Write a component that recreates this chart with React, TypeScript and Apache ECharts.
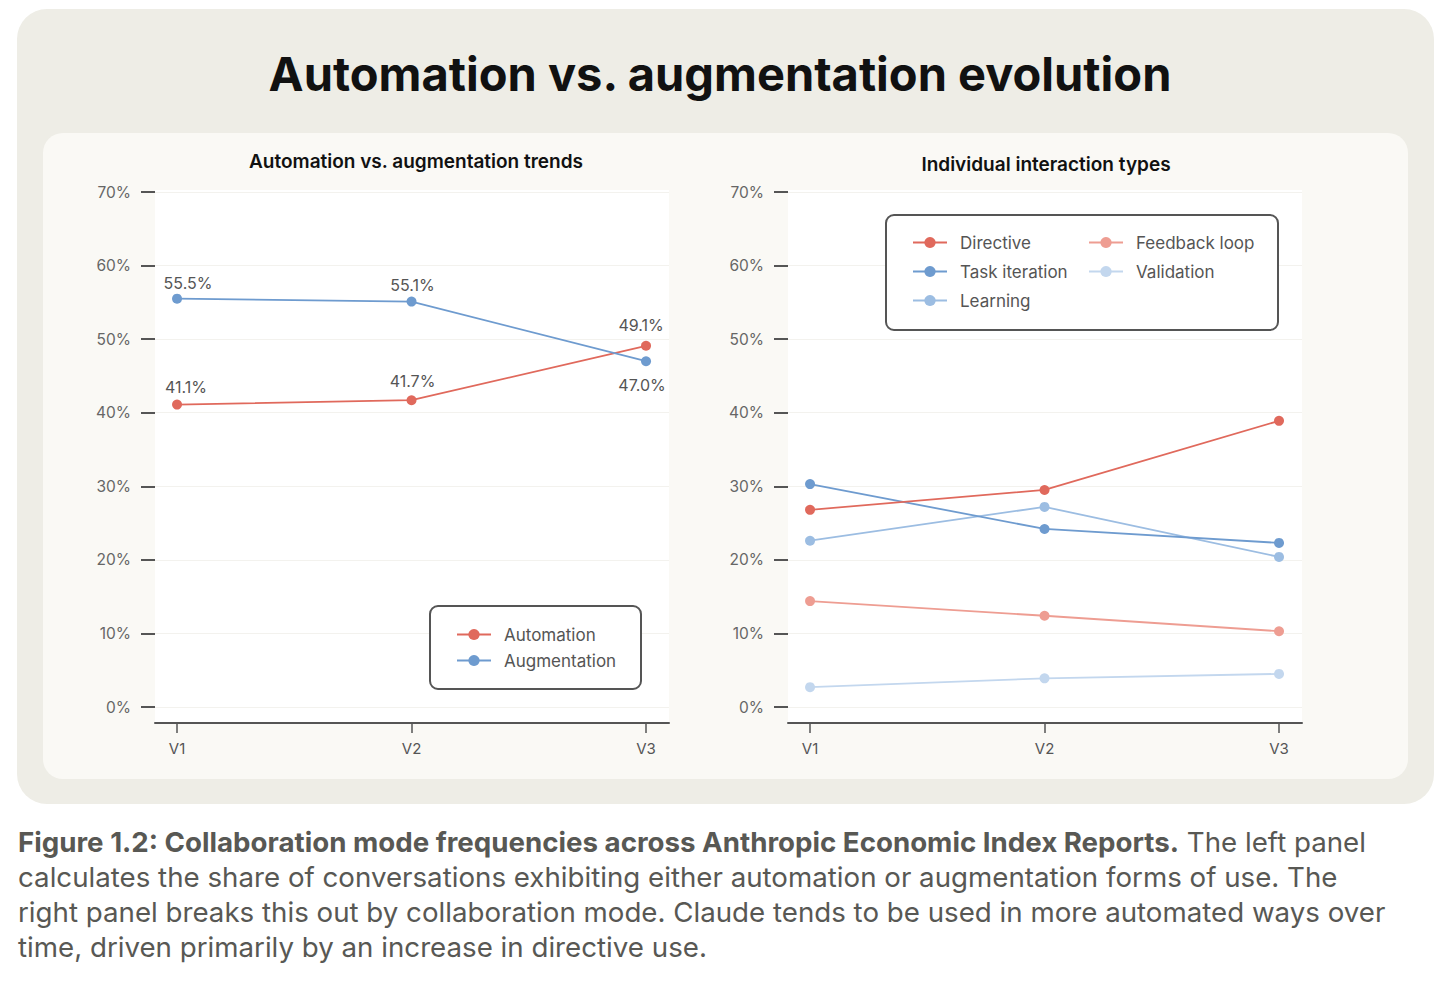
import React, { useEffect, useRef } from "react";
import * as echarts from "echarts";

const categories = ["V1", "V2", "V3"];

const automation = [41.1, 41.7, 49.1];
const augmentation = [55.5, 55.1, 47.0];

const directive = [26.8, 29.5, 38.9];
const taskIteration = [30.3, 24.2, 22.3];
const learning = [22.6, 27.2, 20.4];
const feedbackLoop = [14.4, 12.4, 10.3];
const validation = [2.7, 3.9, 4.5];

const mainTitle = "Automation vs. augmentation evolution";
const leftTitle = "Automation vs. augmentation trends";
const rightTitle = "Individual interaction types";
const captionBold = "Figure 1.2: Collaboration mode frequencies across Anthropic Economic Index Reports.";
const captionLines = [
  " The left panel",
  "calculates the share of conversations exhibiting either automation or augmentation forms of use. The",
  "right panel breaks this out by collaboration mode. Claude tends to be used in more automated ways over",
  "time, driven primarily by an increase in directive use.",
];

const FONT = "Inter, 'Noto Sans', sans-serif";
const RED = "#E0695C";
const BLUE = "#6E9BCF";
const LIGHTBLUE = "#9CBDE2";
const SALMON = "#EE9D92";
const PALEBLUE = "#C3D7EE";
const AXIS = "#555555";

function App() {
  const ref = useRef<HTMLDivElement>(null);

  useEffect(() => {
    if (!ref.current) return;
    const chart = echarts.init(ref.current, undefined, { renderer: "svg" });

    const xAxisBase = (gridIndex: number) => ({
      type: "value" as const,
      gridIndex,
      min: -0.094,
      max: 2.098,
      position: "bottom" as const,
      offset: 16,
      axisLine: { show: true, onZero: false, lineStyle: { color: AXIS, width: 2 } },
      axisTick: { show: true, customValues: [0, 1, 2], length: 10, lineStyle: { color: AXIS, width: 1.5 } },
      axisLabel: {
        customValues: [0, 1, 2],
        formatter: (v: number) => categories[Math.round(v)] ?? "",
        color: AXIS,
        fontSize: 15,
        fontFamily: FONT,
        margin: 18,
      },
      splitLine: { show: false },
    });

    const yAxisBase = (gridIndex: number) => ({
      type: "value" as const,
      gridIndex,
      min: 0,
      max: 70,
      interval: 10,
      position: "left" as const,
      axisLine: { show: false, onZero: false },
      axisTick: { show: true, inside: false, length: 14, lineStyle: { color: AXIS, width: 2 } },
      axisLabel: {
        formatter: (v: number) => `${v}%`,
        color: "#666",
        fontSize: 15.5,
        fontFamily: FONT,
        margin: 24,
      },
      splitLine: { show: true, lineStyle: { color: "#F3F2EE", width: 1 } },
    });

    const pts = (vals: number[]) => categories.map((_, i) => [i, vals[i]]);

    const lineSeries = (name: string, vals: number[], color: string, idx: number, z = 3) => ({
      name,
      type: "line" as const,
      xAxisIndex: idx,
      yAxisIndex: idx,
      data: pts(vals),
      symbol: "circle",
      symbolSize: 10,
      z,
      lineStyle: { color, width: 1.8 },
      itemStyle: { color },
    });

    const labelStyle = { show: true, color: AXIS, fontSize: 16, fontFamily: FONT };
    const labelledData = (vals: number[], cfg: { pos: string; dx: number; dist: number }[]) =>
      categories.map((_, i) => ({
        value: [i, vals[i]],
        label: {
          ...labelStyle,
          position: cfg[i].pos,
          distance: cfg[i].dist,
          offset: [cfg[i].dx, 0],
          formatter: `${vals[i].toFixed(1)}%`,
        },
      }));

    const legendText = { color: AXIS, fontSize: 17, fontFamily: FONT, padding: [0, 0, 0, 8] };

    const option = {
      animation: false,
      backgroundColor: "transparent",
      graphic: [
        { type: "rect", z: -20, shape: { x: 17, y: 9, width: 1417, height: 795, r: 30 }, style: { fill: "#EEEDE6" }, silent: true },
        { type: "rect", z: -19, shape: { x: 43, y: 133, width: 1365, height: 646, r: 20 }, style: { fill: "#FAF9F5" }, silent: true },
        { type: "rect", z: -18, shape: { x: 155, y: 190, width: 514, height: 533 }, style: { fill: "#FFFFFF" }, silent: true },
        { type: "rect", z: -18, shape: { x: 788, y: 190, width: 514, height: 533 }, style: { fill: "#FFFFFF" }, silent: true },
        { type: "rect", z: 5, shape: { x: 430, y: 606, width: 211, height: 83, r: 8 }, style: { fill: "#FFFFFF", stroke: AXIS, lineWidth: 2 }, silent: true },
        { type: "rect", z: 5, shape: { x: 886, y: 215, width: 392, height: 115, r: 8 }, style: { fill: "#FFFFFF", stroke: AXIS, lineWidth: 2 }, silent: true },
        {
          type: "text", z: 10,
          style: { x: 720, y: 73, text: mainTitle, align: "center", verticalAlign: "middle", fill: "#111", font: `bold 47px ${FONT}` },
        },
        {
          type: "text", z: 10,
          style: { x: 416, y: 161, text: leftTitle, align: "center", verticalAlign: "middle", fill: "#111", font: `600 19px ${FONT}` },
        },
        {
          type: "text", z: 10,
          style: { x: 1046, y: 164, text: rightTitle, align: "center", verticalAlign: "middle", fill: "#111", font: `600 19px ${FONT}` },
        },
        {
          type: "text", z: 10,
          style: {
            x: 18, y: 824,
            text:
              `{b|${captionBold}}{r|${captionLines[0]}}\n` +
              captionLines.slice(1).map((l) => `{r|${l}}`).join("\n"),
            rich: {
              b: { fontFamily: FONT, fontSize: 27.7, fontWeight: "bold", fill: "#585854", lineHeight: 35 },
              r: { fontFamily: FONT, fontSize: 27.7, fontWeight: "normal", fill: "#585854", lineHeight: 35 },
            },
          },
        },
      ],
      grid: [
        { left: 155, top: 192, width: 514, height: 515 },
        { left: 788, top: 192, width: 514, height: 515 },
      ],
      xAxis: [xAxisBase(0), xAxisBase(1)],
      yAxis: [yAxisBase(0), yAxisBase(1)],
      legend: [
        {
          data: ["Automation", "Augmentation"],
          orient: "vertical",
          left: 456, top: 626,
          padding: 0, itemGap: 9, itemWidth: 34, itemHeight: 14,
          selectedMode: false, z: 8,
          textStyle: legendText,
        },
        {
          data: ["Directive", "Task iteration", "Learning"],
          orient: "vertical",
          left: 912, top: 234,
          padding: 0, itemGap: 12, itemWidth: 34, itemHeight: 14,
          selectedMode: false, z: 8,
          textStyle: legendText,
        },
        {
          data: ["Feedback loop", "Validation"],
          orient: "vertical",
          left: 1088, top: 234,
          padding: 0, itemGap: 12, itemWidth: 34, itemHeight: 14,
          selectedMode: false, z: 8,
          textStyle: legendText,
        },
      ],
      series: [
        {
          ...lineSeries("Automation", automation, RED, 0),
          data: labelledData(automation, [
            { pos: "top", dx: 9, dist: 5 },
            { pos: "top", dx: 1, dist: 6 },
            { pos: "top", dx: -5, dist: 8 },
          ]),
        },
        {
          ...lineSeries("Augmentation", augmentation, BLUE, 0),
          data: labelledData(augmentation, [
            { pos: "top", dx: 11, dist: 3 },
            { pos: "top", dx: 1, dist: 4 },
            { pos: "bottom", dx: -4, dist: 11 },
          ]),
        },
        lineSeries("Validation", validation, PALEBLUE, 1),
        lineSeries("Feedback loop", feedbackLoop, SALMON, 1),
        lineSeries("Learning", learning, LIGHTBLUE, 1),
        lineSeries("Task iteration", taskIteration, BLUE, 1),
        lineSeries("Directive", directive, RED, 1),
      ],
    };

    chart.setOption(option as any);
    return () => chart.dispose();
  }, []);

  return (
    <div
      ref={ref}
      style={{ position: "fixed", left: 0, top: 0, width: 1456, height: 985, background: "#FFFFFF" }}
    />
  );
}

export default App;
